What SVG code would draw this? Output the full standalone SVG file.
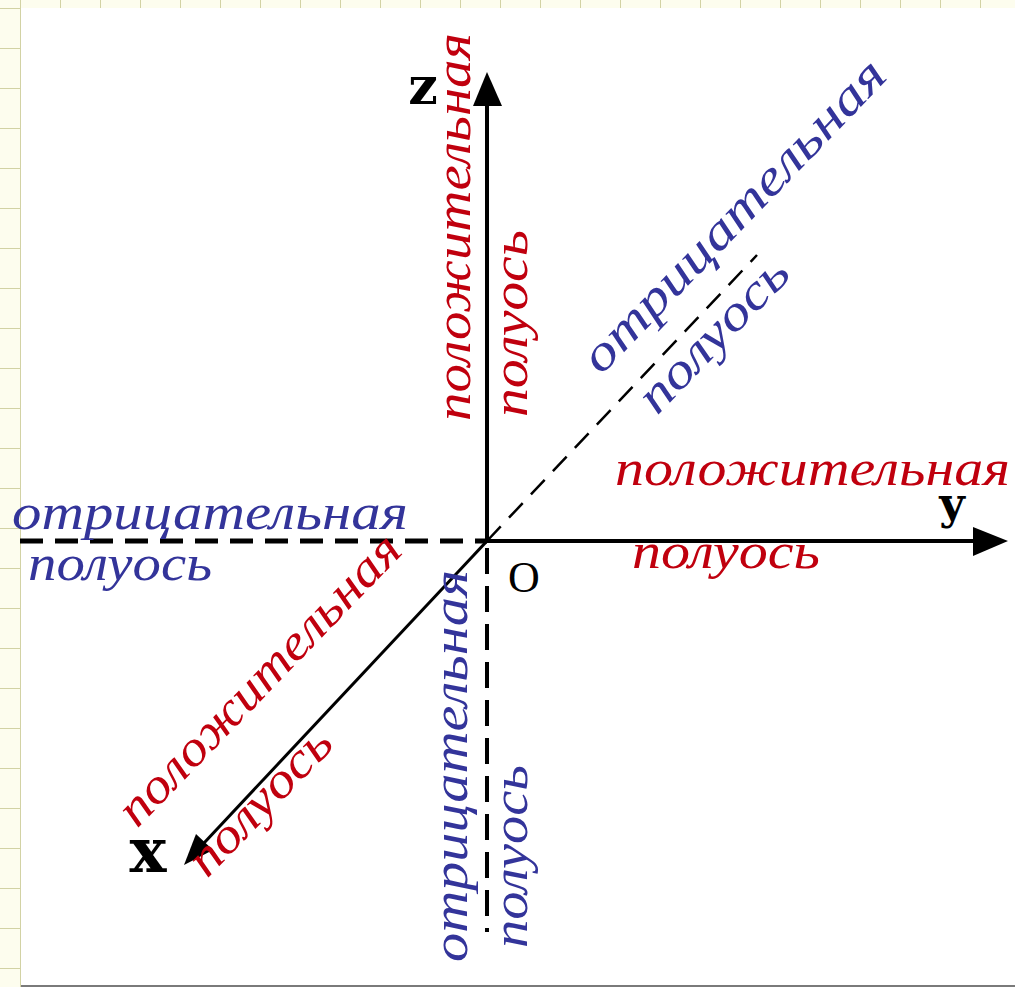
<svg xmlns="http://www.w3.org/2000/svg" width="1015" height="987" viewBox="0 0 1015 987">
  <defs>
    <pattern id="grid" x="20" y="8" width="40" height="40" patternUnits="userSpaceOnUse">
      <rect width="40" height="40" fill="#fdfdee"/>
      <path d="M0 0H40M0 0V40" stroke="#d2d2a4" stroke-width="2" fill="none"/>
    </pattern>
    <style>
      .lbl { font-family: "Liberation Serif", "DejaVu Serif", serif; font-style: italic; font-size: 50px; }
      .red { fill: #c0000e; }
      .blue { fill: #33349a; }
      .ax { font-family: "DejaVu Serif", "Liberation Serif", serif; font-weight: bold; fill: #000; }
      .solid { stroke: #000; fill: none; }
      .dash { stroke: #000; fill: none; }
    </style>
  </defs>

  <g id="background">
    <rect x="0" y="0" width="1015" height="987" fill="url(#grid)"/>
    <rect x="21" y="8" width="994" height="977" fill="#ffffff"/>
    <line x1="21" y1="986" x2="1015" y2="986" stroke="#7a7a7a" stroke-width="2"/>
  </g>

  <g id="connectors">
    <!-- z axis -->
    <line class="solid" x1="487" y1="543" x2="487" y2="100" stroke-width="4"/>
    <polygon points="487,72 473,106 502,106" fill="#000"/>
    <!-- y axis -->
    <line class="solid" x1="485" y1="541" x2="980" y2="541" stroke-width="4"/>
    <polygon points="1008,541 973,527 973,556" fill="#000"/>
    <!-- x axis -->
    <line class="solid" x1="487" y1="541" x2="204" y2="843" stroke-width="3"/>
    <polygon points="184,865 196,834 213,850" fill="#000"/>
    <!-- negative y -->
    <line class="dash" x1="20" y1="541" x2="487" y2="541" stroke-width="5" stroke-dasharray="23 12"/>
    <!-- negative z -->
    <line class="dash" x1="487" y1="548" x2="487" y2="932" stroke-width="4" stroke-dasharray="26 12"/>
    <!-- negative x -->
    <line class="dash" x1="487" y1="541" x2="757" y2="255" stroke-width="2.5" stroke-dasharray="20 12"/>
  </g>

  <g id="axis-labels">
    <text class="ax" x="423" y="104" font-size="52" text-anchor="middle">z</text>
    <text class="ax" x="952" y="519" font-size="44" text-anchor="middle">y</text>
    <text class="ax" x="148" y="872" font-size="62" text-anchor="middle">x</text>
    <text x="508" y="592" font-family="Liberation Serif, serif" font-size="44" fill="#000">O</text>
  </g>

  <g id="pos-y">
    <text class="lbl red" x="615" y="485" textLength="395" lengthAdjust="spacingAndGlyphs">положительная</text>
    <text class="lbl red" x="632" y="568" textLength="188" lengthAdjust="spacingAndGlyphs">полуось</text>
  </g>
  <g id="neg-y">
    <text class="lbl blue" x="12" y="529" textLength="396" lengthAdjust="spacingAndGlyphs">отрицательная</text>
    <text class="lbl blue" x="28" y="580" textLength="184" lengthAdjust="spacingAndGlyphs">полуось</text>
  </g>
  <g id="pos-z">
    <text class="lbl red" transform="translate(470,421) rotate(-90)" textLength="388" lengthAdjust="spacingAndGlyphs">положительная</text>
    <text class="lbl red" transform="translate(527,417) rotate(-90)" textLength="187" lengthAdjust="spacingAndGlyphs">полуось</text>
  </g>
  <g id="neg-z">
    <text class="lbl blue" transform="translate(467,962) rotate(-90)" textLength="392" lengthAdjust="spacingAndGlyphs">отрицательная</text>
    <text class="lbl blue" transform="translate(527,948) rotate(-90)" textLength="183" lengthAdjust="spacingAndGlyphs">полуось</text>
  </g>
  <g id="neg-x">
    <text class="lbl blue" transform="translate(601,376) rotate(-46)" textLength="415" lengthAdjust="spacingAndGlyphs">отрицательная</text>
    <text class="lbl blue" transform="translate(657,416) rotate(-46)" textLength="195" lengthAdjust="spacingAndGlyphs">полуось</text>
  </g>
  <g id="pos-x">
    <text class="lbl red" transform="translate(137,829) rotate(-46)" textLength="385" lengthAdjust="spacingAndGlyphs">положительная</text>
    <text class="lbl red" transform="translate(207,879) rotate(-46)" textLength="185" lengthAdjust="spacingAndGlyphs">полуось</text>
  </g>
</svg>
